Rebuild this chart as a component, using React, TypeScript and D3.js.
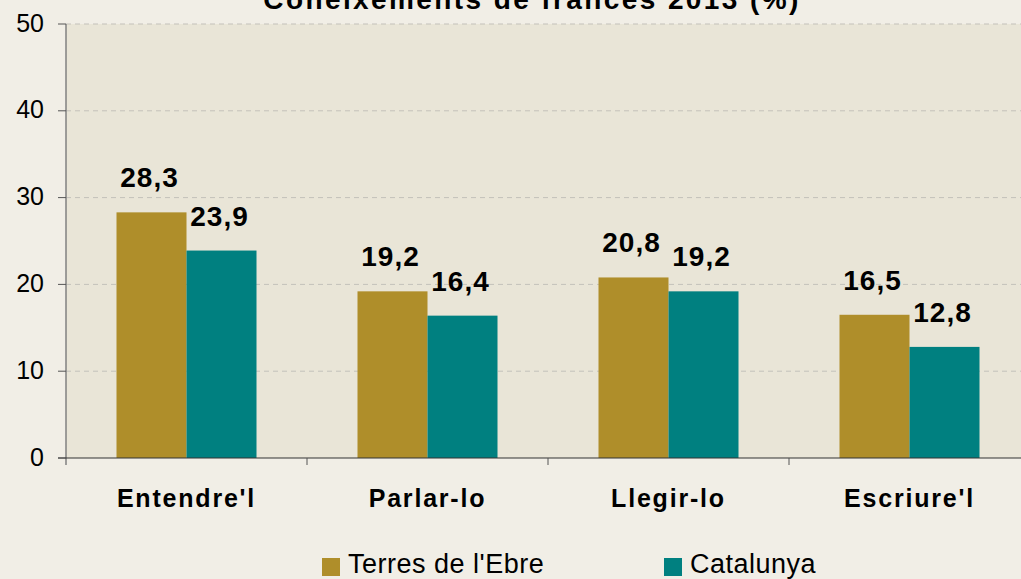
import React from "react";
import * as d3 from "d3";

const categories = ["Entendre'l", "Parlar-lo", "Llegir-lo", "Escriure'l"];
const seriesNames = ["Terres de l'Ebre", "Catalunya"];
const terresValues = [28.3, 19.2, 20.8, 16.5];
const catalunyaValues = [23.9, 16.4, 19.2, 12.8];
const yTicks = [0, 10, 20, 30, 40, 50];
const colors = ["#AF8E2A", "#008080"];
const title = "Coneixements de francès 2013 (%)";

const W = 1021;
const H = 579;
const m = { left: 66, top: 24, right: -9, bottom: 121 };

export default function App() {
  const x = d3.scaleBand<string>().domain(categories).range([m.left, W - m.right]).paddingInner(0).paddingOuter(0);
  const y = d3.scaleLinear().domain([0, 50]).range([H - m.bottom, m.top]);
  const bw = 70;
  const series = [terresValues, catalunyaValues];
  const fmt = (v: number) => v.toFixed(1).replace(".", ",");
  const font = "'Liberation Sans', Arial, sans-serif";
  return (
    <svg width={W} height={H} style={{ position: "absolute", left: 0, top: 0, background: "#F1EEE6" }} fontFamily={font}>
      <rect x={0} y={0} width={W} height={H} fill="#F1EEE6" />
      <rect x={m.left} y={m.top} width={W - m.right - m.left} height={y(0) - m.top} fill="#E9E5D7" />
      {yTicks.filter(t => t > 0).map(t => (
        <line key={t} x1={m.left} x2={W} y1={y(t)} y2={y(t)} stroke="#C3C1BA" strokeDasharray="5,4" strokeWidth={1} />
      ))}
      {categories.map((c, i) =>
        series.map((s, j) => {
          const bx = (x(c) as number) + x.bandwidth() / 2 - bw + j * bw;
          return (
            <g key={c + j}>
              <rect x={bx} y={y(s[i])} width={bw} height={y(0) - y(s[i])} fill={colors[j]} />
              <text x={bx + bw / 2 - 2} y={y(s[i]) - 25} textAnchor="middle" fontSize={28} fontWeight="bold" letterSpacing={1} fill="#000">{fmt(s[i])}</text>
            </g>
          );
        })
      )}
      <line x1={m.left} x2={m.left} y1={m.top} y2={y(0) + 7} stroke="#808080" strokeWidth={1.5} />
      <line x1={m.left - 8} x2={W} y1={y(0)} y2={y(0)} stroke="#333" strokeWidth={1.2} />
      {yTicks.map(t => (
        <g key={t}>
          <line x1={m.left - 8} x2={m.left} y1={y(t)} y2={y(t)} stroke="#555" strokeWidth={1} />
          <text x={m.left - 22} y={y(t) + 7.5} textAnchor="end" fontSize={25} fill="#000">{t}</text>
        </g>
      ))}
      {categories.map((c, i) => (
        <g key={c}>
          {i > 0 && <line x1={x(c) as number} x2={x(c) as number} y1={y(0)} y2={y(0) + 7} stroke="#555" strokeWidth={1} />}
          <text x={(x(c) as number) + x.bandwidth() / 2} y={507} textAnchor="middle" fontSize={25} fontWeight="bold" letterSpacing={1.8} fill="#000">{c}</text>
        </g>
      ))}
      <text x={532} y={9} textAnchor="middle" fontSize={28} fontWeight="bold" letterSpacing={2.4} fill="#000">{title}</text>
      {seriesNames.map((n, j) => (
        <g key={n} transform={`translate(${j === 0 ? 322 : 664},558)`}>
          <rect x={0} y={0} width={18} height={18} fill={colors[j]} />
          <text x={26} y={15} fontSize={27} letterSpacing={0.5} fill="#000">{n}</text>
        </g>
      ))}
    </svg>
  );
}
